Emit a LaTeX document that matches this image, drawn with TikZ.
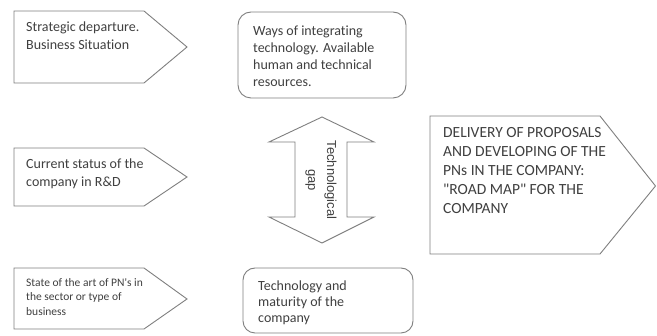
\documentclass[tikz,border=0pt]{standalone}
\usepackage{fontspec}
\setmainfont{Carlito}[Ligatures={NoCommon,TeXOff}]
\newfontfamily\arialfont{Liberation Sans}
\definecolor{inkgray}{HTML}{404040}
\definecolor{edgegray}{HTML}{7F7F7F}
\begin{document}
\begin{tikzpicture}[x=1pt,y=-1pt,
  shapeline/.style={draw=edgegray, line width=0.9pt, fill=white, line join=miter},
  roundbox/.style={shapeline, rounded corners=13pt},
  label/.style={anchor=north west, inner sep=0pt, align=left, text=inkgray},
]
\useasboundingbox (0,0) rectangle (657,336);

% left column: pentagon arrows
\draw[shapeline] (14,11) -- (144,11) -- (187,47) -- (144,83) -- (14,83) -- cycle;
\draw[shapeline] (14,148) -- (144,148) -- (187,177) -- (144,206) -- (14,206) -- cycle;
\draw[shapeline] (14,268) -- (144,268) -- (187,299) -- (144,329) -- (14,329) -- cycle;

% middle column: rounded boxes
\draw[roundbox] (238,12) rectangle (406,98);
\draw[roundbox, rounded corners=12pt] (243,268) rectangle (413,333);

% vertical double arrow
\draw[shapeline] (322,117) -- (374,142) -- (347,142) -- (347,217) -- (374,217)
  -- (322,243) -- (269,217) -- (295,217) -- (295,142) -- (269,142) -- cycle;

% right: large pentagon arrow
\draw[shapeline] (430,116) -- (600,116) -- (655.5,186) -- (600,254) -- (430,254) -- cycle;

% texts
\node[label, font=\fontsize{14}{17.2}\selectfont] (strategic) at (26,31.7-12.04)
  {\strut Strategic departure.\\Business Situation};
\node[label, font=\fontsize{14}{18}\selectfont] (current) at (26,168-12.6)
  {\strut Current status of the\\company in R\&D};
\node[label, font=\fontsize{11.5}{14.5}\selectfont] (stateart) at (26,286-10.15)
  {\strut State of the art of PN's in\\the sector or type of\\business};
\node[label, font=\fontsize{14}{16.8}\selectfont] (ways) at (253,35.7-11.76)
  {\strut Ways of integrating\\technology. Available\\human and technical\\resources.};
\node[label, font=\fontsize{14}{16}\selectfont] (maturity) at (258,290-11.2)
  {\strut Technology and\\maturity of the\\company};
\node[label, font=\fontsize{15.5}{18.9}\selectfont] (delivery) at (443,137.7-13.23)
  {\strut DELIVERY OF PROPOSALS\\AND DEVELOPING OF THE\\PNs IN THE COMPANY:\\"ROAD MAP" FOR THE\\COMPANY};
\node[inner sep=0pt, align=center, text=inkgray, rotate=-90,
  font=\arialfont\fontsize{13}{19}\selectfont] (gap) at (321,180)
  {Technological\\gap};
\end{tikzpicture}
\end{document}
